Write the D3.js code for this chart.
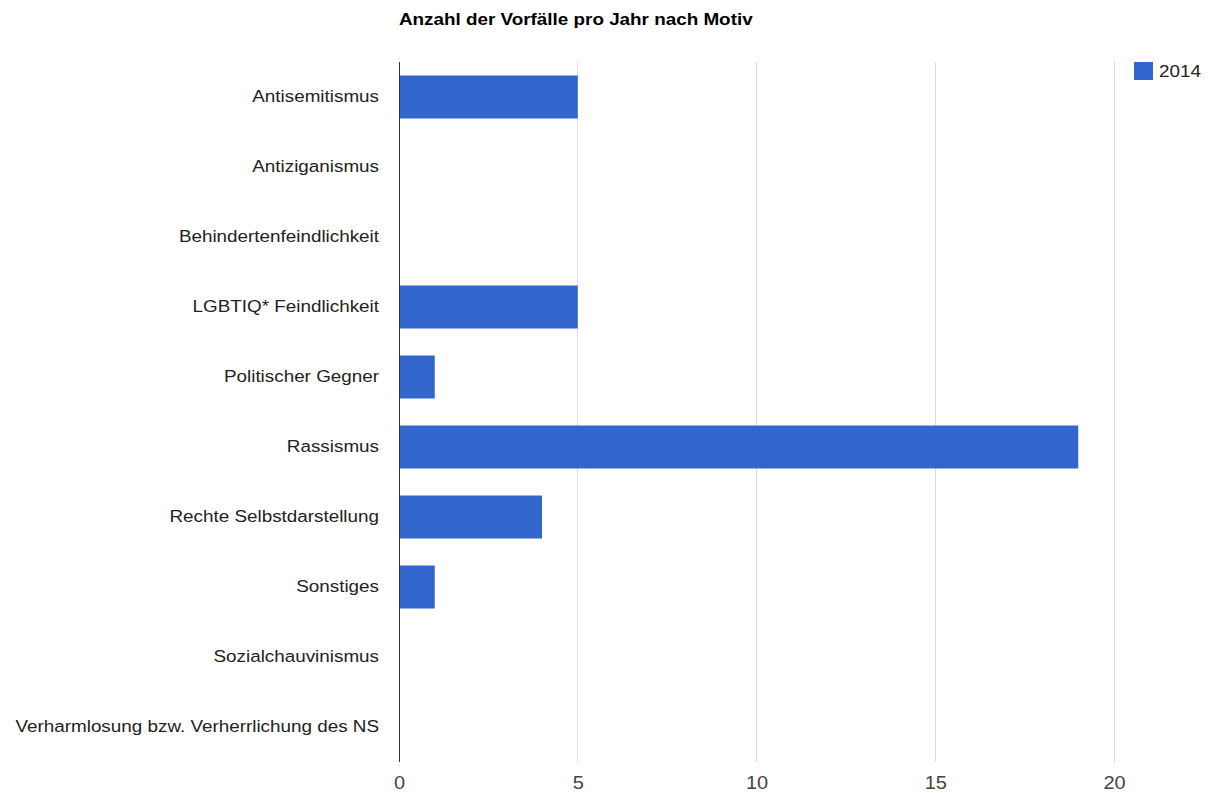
<!DOCTYPE html>
<html><head><meta charset="utf-8">
<script src="https://cdn.jsdelivr.net/npm/d3@7"></script>
<style>body{margin:0;background:#fff;}svg{display:block;font-family:"Liberation Sans",Arial,sans-serif;}</style>
</head><body>
<svg id="c" width="1212" height="793"></svg>
<script>
const categories = ["Antisemitismus","Antiziganismus","Behindertenfeindlichkeit","LGBTIQ* Feindlichkeit","Politischer Gegner","Rassismus","Rechte Selbstdarstellung","Sonstiges","Sozialchauvinismus","Verharmlosung bzw. Verherrlichung des NS"];
const values2014 = [5,0,0,5,1,19,4,1,0,0];
const xTicks = [0,5,10,15,20];
const seriesName = "2014";
const title = "Anzahl der Vorfälle pro Jahr nach Motiv";

(function(){
const svg = d3.select("#c");
const pLeft = 399, pRight = 1114, pTop = 62, pBottom = 762;
const sx = 1.11;
const x = d3.scaleLinear().domain([0,20]).range([pLeft,pRight]);
const y = d3.scaleBand().domain(categories).range([pTop,pBottom]).paddingInner(0.386).paddingOuter(0.193);

svg.append("g").attr("transform",`translate(${pLeft},25) scale(${sx},1)`)
  .append("text").attr("font-size",17).attr("font-weight","bold").attr("fill","#000").text(title);

svg.append("g").selectAll("line").data(xTicks.filter(d=>d!==0)).join("line")
  .attr("x1",d=>x(d)).attr("x2",d=>x(d)).attr("y1",pTop).attr("y2",pBottom)
  .attr("stroke","#dcdcdc").attr("stroke-width",1).attr("shape-rendering","crispEdges");

svg.append("g").selectAll("rect").data(categories).join("rect")
  .attr("x",x(0)).attr("y",d=>y(d)).attr("width",(d,i)=>x(values2014[i])-x(0)).attr("height",y.bandwidth())
  .attr("fill","#3366cc");

svg.append("line").attr("x1",x(0)).attr("x2",x(0)).attr("y1",pTop).attr("y2",pBottom).attr("stroke","#333").attr("stroke-width",1).attr("shape-rendering","crispEdges");

const xa = svg.append("g").attr("transform",`translate(0,${pBottom})`).call(d3.axisBottom(x).tickValues(xTicks).tickSize(0).tickPadding(14));
xa.select(".domain").remove();
xa.selectAll("text").attr("font-size",18).attr("fill","#444").attr("font-family","Liberation Sans, Arial, sans-serif")
  .attr("transform",`scale(${sx},1)`);

const ya = svg.append("g").attr("transform",`translate(${pLeft},0)`).call(d3.axisLeft(y).tickSize(0).tickPadding(20/sx));
ya.select(".domain").remove();
ya.selectAll("text").attr("font-size",17).attr("fill","#222").attr("font-family","Liberation Sans, Arial, sans-serif")
  .attr("transform",`scale(${sx},1)`);

const lg = svg.append("g");
lg.append("rect").attr("x",1134).attr("y",62).attr("width",19).attr("height",18).attr("fill","#3366cc");
lg.append("g").attr("transform",`translate(1159,77) scale(${sx},1)`)
  .append("text").attr("font-size",17).attr("fill","#222").text(seriesName);
})();
</script>
</body></html>
